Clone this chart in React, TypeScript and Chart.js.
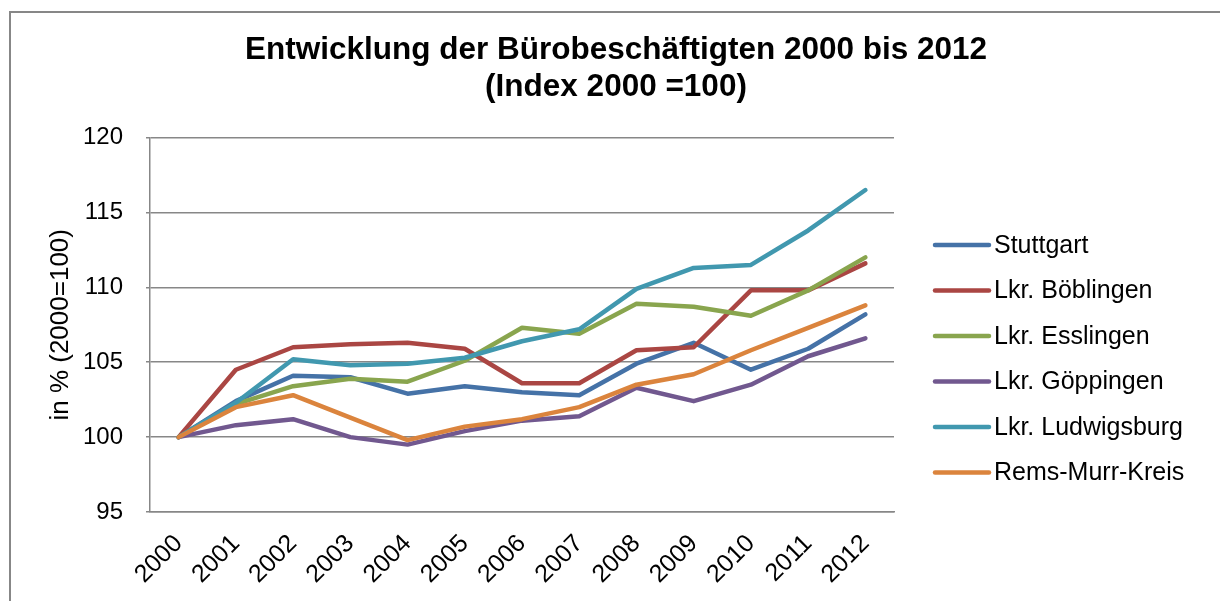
import React, { useEffect, useRef } from 'react';
import { Chart, registerables } from 'chart.js';

Chart.register(...registerables);

const years = ['2000', '2001', '2002', '2003', '2004', '2005', '2006', '2007', '2008', '2009', '2010', '2011', '2012'];

const stuttgart = [100, 102.4, 104.1, 104.0, 102.9, 103.4, 103.0, 102.8, 104.9, 106.3, 104.5, 105.9, 108.2];
const boeblingen = [100, 104.5, 106.0, 106.2, 106.3, 105.9, 103.6, 103.6, 105.8, 106.0, 109.8, 109.8, 111.6];
const esslingen = [100, 102.2, 103.4, 103.9, 103.7, 105.1, 107.3, 106.9, 108.9, 108.7, 108.1, 109.8, 112.0];
const goeppingen = [100, 100.8, 101.2, 100.0, 99.5, 100.4, 101.1, 101.4, 103.3, 102.4, 103.5, 105.4, 106.6];
const ludwigsburg = [100, 102.3, 105.2, 104.8, 104.9, 105.3, 106.4, 107.2, 109.9, 111.3, 111.5, 113.8, 116.5];
const remsMurr = [100, 102.0, 102.8, 101.3, 99.8, 100.7, 101.2, 102.0, 103.5, 104.2, 105.8, 107.3, 108.8];

const seriesNames = ['Stuttgart', 'Lkr. Böblingen', 'Lkr. Esslingen', 'Lkr. Göppingen', 'Lkr. Ludwigsburg', 'Rems-Murr-Kreis'];
const seriesValues = [stuttgart, boeblingen, esslingen, goeppingen, ludwigsburg, remsMurr];
const seriesColors = ['#4572A7', '#AA4643', '#89A54E', '#71588F', '#4198AF', '#DB843D'];

const titleLines = ['Entwicklung der Bürobeschäftigten 2000 bis 2012', '(Index 2000 =100)'];
const yAxisTitle = 'in % (2000=100)';
const yMin = 95;
const yMax = 120;
const yStep = 5;

const FONT = "'Liberation Sans', Arial, sans-serif";

const framePlugin = {
  id: 'frame',
  beforeDraw(chart: any) {
    const ctx = chart.ctx;
    ctx.save();
    ctx.fillStyle = '#ffffff';
    ctx.fillRect(0, 0, chart.width, chart.height);
    ctx.strokeStyle = '#878787';
    ctx.lineWidth = 2;
    ctx.strokeRect(10, 12, chart.width + 50, chart.height + 50);
    ctx.restore();
  },
};

const sideLegendPlugin = {
  id: 'sideLegend',
  afterDraw(chart: any) {
    const ctx = chart.ctx;
    const x0 = chart.chartArea.right + 41;
    ctx.save();
    ctx.font = `25px ${FONT}`;
    ctx.textBaseline = 'middle';
    ctx.textAlign = 'left';
    chart.data.datasets.forEach((ds: any, i: number) => {
      const y = 245 + i * 45.5;
      ctx.strokeStyle = ds.borderColor;
      ctx.lineWidth = 4.5;
      ctx.lineCap = 'round';
      ctx.beginPath();
      ctx.moveTo(x0, y);
      ctx.lineTo(x0 + 54, y);
      ctx.stroke();
      ctx.fillStyle = '#000000';
      ctx.fillText(ds.label, x0 + 59, y + 1);
    });
    ctx.restore();
  },
};

export default function App() {
  const ref = useRef<HTMLCanvasElement>(null);

  useEffect(() => {
    if (!ref.current) return;
    const chart = new Chart(ref.current, {
      type: 'line',
      data: {
        labels: years,
        datasets: seriesValues.map((vals, i) => ({
          label: seriesNames[i],
          data: vals,
          borderColor: seriesColors[i],
          backgroundColor: seriesColors[i],
          borderWidth: 4.5,
          pointRadius: 0,
          pointHoverRadius: 0,
          tension: 0,
          fill: false,
          borderCapStyle: 'round' as const,
          borderJoinStyle: 'round' as const,
          order: seriesValues.length - i,
        })),
      },
      options: {
        responsive: false,
        animation: false,
        devicePixelRatio: 1,
        layout: { padding: { left: 12, right: 0, top: 0, bottom: 0 } },
        plugins: {
          legend: { display: false },
          tooltip: { enabled: false },
          title: {
            display: true,
            text: titleLines,
            color: '#000000',
            font: { family: FONT, size: 31.5, weight: 'bold', lineHeight: 1.2 },
            padding: { top: 31, bottom: 31 },
          },
        },
        scales: {
          x: {
            type: 'category',
            offset: true,
            grid: { display: false },
            border: { display: true, color: '#878787', width: 1.5 },
            ticks: {
              color: '#000000',
              font: { family: FONT, size: 25 },
              maxRotation: 45,
              minRotation: 45,
              autoSkip: false,
              padding: 9,
            },
            afterFit(scale: any) {
              scale.height = 89;
            },
          },
          y: {
            type: 'linear',
            position: 'left',
            min: yMin,
            max: yMax,
            grid: { color: '#878787', lineWidth: 1.5, tickLength: 4 },
            border: { display: true, color: '#878787', width: 1.5 },
            ticks: {
              stepSize: yStep,
              color: '#000000',
              font: { family: FONT, size: 24 },
              padding: 23,
            },
            title: {
              display: true,
              text: yAxisTitle,
              color: '#000000',
              font: { family: FONT, size: 26, lineHeight: 1.2 },
              padding: { top: 33, bottom: 0 },
            },
            afterFit(scale: any) {
              scale.width = 138;
            },
          },
          spacer: {
            type: 'linear',
            position: 'right',
            display: true,
            grid: { display: false },
            border: { display: false },
            ticks: { display: false },
            afterFit(scale: any) {
              scale.width = 326;
            },
          },
        },
      },
      plugins: [framePlugin, sideLegendPlugin],
    } as any);
    return () => chart.destroy();
  }, []);

  return (
    <div style={{ position: 'fixed', left: 0, top: 0, width: 1220, height: 601, overflow: 'hidden', background: '#ffffff' }}>
      <canvas ref={ref} width={1220} height={601} style={{ display: 'block', width: 1220, height: 601 }} />
    </div>
  );
}
